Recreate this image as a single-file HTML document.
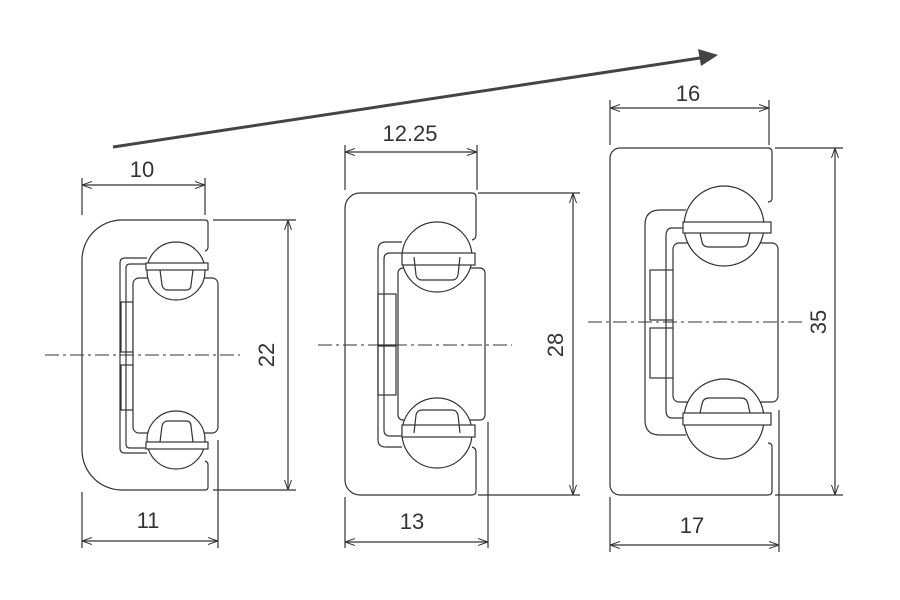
<!DOCTYPE html>
<html><head><style>body{margin:0;background:#fff}svg{display:block}text{font-family:"Liberation Sans",sans-serif;font-size:22px;fill:#333}</style></head><body>
<svg width="900" height="600" viewBox="0 0 900 600" xmlns="http://www.w3.org/2000/svg">
<defs>
<marker id="a" markerWidth="10" markerHeight="8" refX="10" refY="4" orient="auto-start-reverse" markerUnits="userSpaceOnUse"><path d="M0,0.5 L10,4 L0,7.5" fill="none" stroke="#333" stroke-width="1"/></marker>
</defs>
<g fill="none" stroke="#333" stroke-width="1.2">
<line x1="113" y1="147" x2="700" y2="58" stroke="#444" stroke-width="3"/>
<path d="M718,55 L698,49 L701,66 Z" fill="#444" stroke="none"/>

<!-- RAIL 1 -->
<path d="M205,220 L122,220 A40,40 0 0 0 82,260 L82,450 A40,40 0 0 0 122,490 L205,490 Q208,490 208,487 L208,465 Q208,462 205,461"/>
<path d="M205,220 Q208,220 208,223 L208,247 Q208,250 205,251"/>
<path d="M147,258 L125,258 Q120,258 120,263 L120,448 Q120,453 125,453 L147,453"/>
<path d="M147,264 L130,264 Q126,264 126,268 L126,444 Q126,448 130,448 L147,448"/>
<rect x="121" y="302" width="12" height="50"/><rect x="121" y="365" width="12" height="45"/>
<rect x="133" y="278" width="85" height="155" rx="6" fill="#fff"/>
<circle cx="176" cy="271" r="29" fill="#fff"/><circle cx="176" cy="440" r="29" fill="#fff"/>
<rect x="146" y="263" width="62" height="7" fill="#fff"/><rect x="146" y="442" width="62" height="7" fill="#fff"/>
<path d="M160,270 L162,285 Q163,290 168,290 L186,290 Q191,290 191,285 L193,270"/>
<path d="M160,442 L162,426 Q163,421 168,421 L186,421 Q191,421 191,426 L193,442"/>
<line x1="82" y1="178" x2="82" y2="215"/><line x1="205" y1="178" x2="205" y2="215"/>
<line x1="82" y1="185" x2="205" y2="185" marker-start="url(#a)" marker-end="url(#a)"/>
<line x1="82" y1="492" x2="82" y2="548"/><line x1="218" y1="440" x2="218" y2="548"/>
<line x1="82" y1="541" x2="218" y2="541" marker-start="url(#a)" marker-end="url(#a)"/>
<line x1="213" y1="220" x2="296" y2="220"/><line x1="213" y1="490" x2="296" y2="490"/>
<line x1="288" y1="220" x2="288" y2="490" marker-start="url(#a)" marker-end="url(#a)"/>
<line x1="45" y1="355" x2="240" y2="355" stroke-dasharray="14,4,3,4" stroke-width="0.9"/>

<!-- RAIL 2 -->
<path d="M472,193 L360,193 A15,15 0 0 0 345,208 L345,480 A15,15 0 0 0 360,495 L472,495 Q476,495 476,491 L476,452 Q476,448 472,447"/>
<path d="M472,193 Q476,193 476,197 L476,235 Q476,239 472,240"/>
<path d="M402,242 L386,242 Q378,242 378,250 L378,440 Q378,447 386,447 L402,447"/>
<path d="M402,253 L390,253 Q384,253 384,259 L384,430 Q384,436 390,436 L402,436"/>
<rect x="378" y="294" width="18" height="52"/><rect x="378" y="345" width="18" height="50"/>
<rect x="398" y="268" width="87" height="152" rx="5" fill="#fff"/>
<circle cx="437" cy="257" r="35" fill="#fff"/><circle cx="437" cy="433" r="35" fill="#fff"/>
<rect x="402" y="253" width="73" height="12" fill="#fff"/><rect x="402" y="425" width="73" height="12" fill="#fff"/>
<path d="M414,257 L416,275 Q417,280 422,280 L452,280 Q457,280 458,275 L460,257"/>
<path d="M414,433 L416,415 Q417,410 422,410 L452,410 Q457,410 458,415 L460,433"/>
<line x1="345" y1="145" x2="345" y2="190"/><line x1="477" y1="145" x2="477" y2="190"/>
<line x1="345" y1="152" x2="477" y2="152" marker-start="url(#a)" marker-end="url(#a)"/>
<line x1="345" y1="497" x2="345" y2="548"/><line x1="488" y1="422" x2="488" y2="548"/>
<line x1="345" y1="542" x2="488" y2="542" marker-start="url(#a)" marker-end="url(#a)"/>
<line x1="478" y1="193" x2="580" y2="193"/><line x1="478" y1="495" x2="580" y2="495"/>
<line x1="573" y1="193" x2="573" y2="495" marker-start="url(#a)" marker-end="url(#a)"/>
<line x1="318" y1="345" x2="512" y2="345" stroke-dasharray="14,4,3,4" stroke-width="0.9"/>

<!-- RAIL 3 -->
<path d="M768,148 L620,148 A10,10 0 0 0 610,158 L610,485 A10,10 0 0 0 620,495 L768,495 Q772,495 772,491 L772,447 Q772,443 768,443"/>
<path d="M768,148 Q772,148 772,152 L772,198 Q772,202 768,202"/>
<path d="M686,210 L660,210 Q645,210 645,225 L645,420 Q645,435 660,435 L686,435"/>
<path d="M686,228 L672,228 Q666,228 666,236 L666,410 Q666,418 672,418 L686,418"/>
<rect x="650" y="270" width="24" height="50"/><rect x="650" y="328" width="24" height="50"/>
<rect x="673" y="243" width="105" height="159" rx="6" fill="#fff"/>
<circle cx="724" cy="226" r="40" fill="#fff"/><circle cx="724" cy="419" r="40" fill="#fff"/>
<rect x="683" y="222" width="88" height="11" fill="#fff"/><rect x="683" y="413" width="88" height="12" fill="#fff"/>
<path d="M700,233 L702,242 Q703,247 709,247 L741,247 Q747,247 748,242 L750,233"/>
<path d="M700,413 L702,404 Q703,398 709,398 L741,398 Q747,398 748,404 L750,413"/>
<line x1="610" y1="100" x2="610" y2="145"/><line x1="769" y1="100" x2="769" y2="145"/>
<line x1="610" y1="108" x2="769" y2="108" marker-start="url(#a)" marker-end="url(#a)"/>
<line x1="610" y1="497" x2="610" y2="552"/><line x1="779" y1="410" x2="779" y2="552"/>
<line x1="610" y1="545" x2="779" y2="545" marker-start="url(#a)" marker-end="url(#a)"/>
<line x1="775" y1="148" x2="843" y2="148"/><line x1="775" y1="495" x2="843" y2="495"/>
<line x1="835" y1="148" x2="835" y2="495" marker-start="url(#a)" marker-end="url(#a)"/>
<line x1="588" y1="322" x2="805" y2="322" stroke-dasharray="14,4,3,4" stroke-width="0.9"/>
</g>
<text x="142" y="177" text-anchor="middle">10</text>
<text x="148" y="528" text-anchor="middle">11</text>
<text transform="translate(274,355) rotate(-90)" text-anchor="middle">22</text>
<text x="410" y="141" text-anchor="middle">12.25</text>
<text x="412" y="529" text-anchor="middle">13</text>
<text transform="translate(563,345) rotate(-90)" text-anchor="middle">28</text>
<text x="688" y="101" text-anchor="middle">16</text>
<text x="692" y="533" text-anchor="middle">17</text>
<text transform="translate(826,322) rotate(-90)" text-anchor="middle">35</text>
</svg>
</body></html>
